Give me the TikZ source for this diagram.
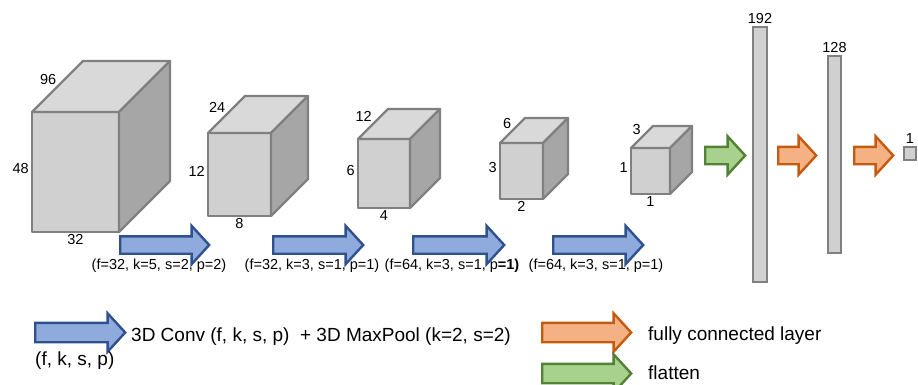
\documentclass[tikz,border=0pt]{standalone}
\usepackage{fontspec}
\setmainfont{Liberation Sans}
\usetikzlibrary{positioning,shapes.arrows}

\definecolor{edgegray}{HTML}{808080}
\definecolor{frontgray}{HTML}{D0D0D0}
\definecolor{topgray}{HTML}{D9D9D9}
\definecolor{sidegray}{HTML}{A6A6A6}
\definecolor{convline}{HTML}{2F528F}
\definecolor{convfill}{HTML}{8FAADC}
\definecolor{fcline}{HTML}{C55A11}
\definecolor{fcfill}{HTML}{F4B183}
\definecolor{flatline}{HTML}{538135}
\definecolor{flatfill}{HTML}{A9D18E}

\begin{document}
\begin{tikzpicture}
[x=1pt,y=-1pt,
cubeface/.style={draw=edgegray,line width=2.2pt,line join=round},
layerbar/.style={rectangle,draw=edgegray,fill=frontgray,line width=2.2pt,inner sep=0pt,outer sep=0pt},
blockarrow/.style={single arrow,line width=2.4pt,inner xsep=0pt,inner ysep=7.5pt,
  single arrow head extend=10.5pt,single arrow tip angle=95,anchor=tail},
convarrow/.style={blockarrow,draw=convline,fill=convfill},
fcarrow/.style={blockarrow,draw=fcline,fill=fcfill},
flatarrow/.style={blockarrow,draw=flatline,fill=flatfill},
keyarrow/.style={minimum height=89pt,inner ysep=8.5pt,single arrow head extend=9.5pt},
dimlabel/.style={font=\fontsize{14.5}{17}\selectfont,inner sep=1pt},
legendtext/.style={font=\fontsize{19}{22}\selectfont,inner sep=0pt,anchor=base west}]

\useasboundingbox (0,0) rectangle (918,384);

% volumes: name/x/y/width/height/depth and their three sizes
\foreach \n/\x/\y/\w/\h/\d/\wl/\hl/\dl in
  {1/32/112/87/120/51/32/48/96, 2/208/133/63/83/37/8/12/24,
   3/358/139/52/69/30/4/6/12, 4/500/143/43/56/25/2/3/6,
   5/631/148/39/46/22/1/1/3}
{
  \node[cubeface,fill=frontgray,rectangle,inner sep=0pt,outer sep=0pt,anchor=north west,
    minimum width=\w pt,minimum height=\h pt] (v\n) at (\x,\y) {};
  \draw[cubeface,fill=topgray] (v\n.north west) -- coordinate (m\n) ++(\d,-\d) -- ++(\w,0)
    -- (v\n.north east) -- cycle;
  \draw[cubeface,fill=sidegray] (v\n.north east) -- ++(\d,-\d) -- ++(0,\h)
    -- (v\n.south east) -- cycle;
  \node[dimlabel,left=2pt of v\n,yshift=3pt] (h\n) {\hl};
  \node[dimlabel,below=1pt of v\n] (w\n) {\wl};
  \node[dimlabel,anchor=south east,yshift=1pt] (d\n) at (m\n) {\dl};
}

% conv + pool steps
\node[convarrow,minimum height=89pt] (c1) at (119,245) {};
\node[convarrow,minimum height=90pt] (c2) at (272,245) {};
\node[convarrow,minimum height=91pt] (c3) at (412,245) {};
\node[convarrow,minimum height=90pt] (c4) at (552,245) {};
\node[dimlabel] (p1) at ([shift={(40,21)}]c1.tail) {(f=32, k=5, s=2, p=2)};
\node[dimlabel] (p2) at ([shift={(40,21)}]c2.tail) {(f=32, k=3, s=1, p=1)};
\node[dimlabel] (p3) at ([shift={(40,21)}]c3.tail) {(f=64, k=3, s=1, p\textbf{=1)}};
\node[dimlabel] (p4) at ([shift={(44,21)}]c4.tail) {(f=64, k=3, s=1, p=1)};

% dense part
\node[flatarrow,minimum height=40pt] (fl) at (704,155.5) {};
\node[layerbar,minimum width=14pt,minimum height=255pt] (fc1) at (760,154.5) {};
\node[fcarrow,minimum height=38pt] (a1) at (777,155.5) {};
\node[layerbar,minimum width=13pt,minimum height=197pt] (fc2) at (834.5,154.5) {};
\node[fcarrow,minimum height=39pt] (a2) at (853,155.5) {};
\node[layerbar,minimum width=12pt,minimum height=13pt] (out) at (910,153.5) {};
\node[dimlabel,above=2pt of fc1] (n1) {192};
\node[dimlabel,above=2pt of fc2] (n2) {128};
\node[dimlabel,above=2pt of out] (n3) {1};

% key
\node[convarrow,keyarrow,minimum height=90pt] (k1) at (34,332.5) {};
\node[legendtext] (t1) at (131,341) {3D Conv (f, k, s, p)~ + 3D MaxPool (k=2, s=2)};
\node[legendtext] (t2) at (35,365) {(f, k, s, p)};
\node[fcarrow,keyarrow] (k2) at (541,332.5) {};
\node[legendtext] (t3) at (648,340) {fully connected layer};
\node[flatarrow,keyarrow] (k3) at (541,373.5) {};
\node[legendtext] (t4) at (648,379) {flatten};
\end{tikzpicture}
\end{document}
